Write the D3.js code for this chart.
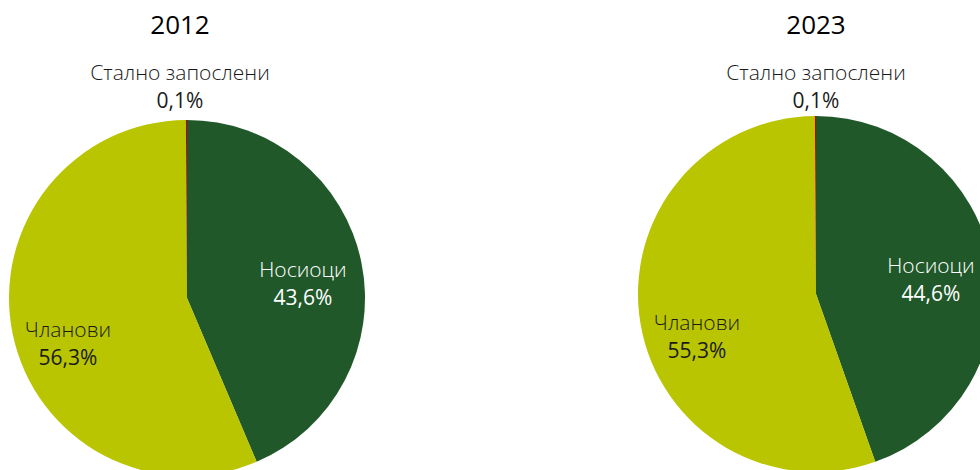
<!DOCTYPE html>
<html><head><meta charset="utf-8">
<script src="https://cdn.jsdelivr.net/npm/d3@7"></script>
<style>body{margin:0;background:#fff}svg{display:block}text{font-family:"Open Sans",sans-serif}</style>
</head><body>
<svg id="c" width="980" height="470"></svg>
<script>
const years = ["2012", "2023"];
const categories = ["Носиоци", "Чланови", "Стално запослени"];
const values2012 = [43.6, 56.3, 0.1];
const values2023 = [44.6, 55.3, 0.1];
const colors = ["#20582A", "#B9C500", "#C00000"];

const svg = d3.select("#c");
const r = 178;
const centers = [[187, 298], [816, 294]];
const series = [values2012, values2023];
const color = d3.scaleOrdinal().domain(categories).range(colors);
const pie = d3.pie().sort(null).value(d => d.v);
const arc = d3.arc().innerRadius(0).outerRadius(r);
const fmt = v => d3.format(".1f")(v).replace(".", ",") + "%";

// label offsets (relative to pie center) per chart
const labelPos = [
  {"Носиоци": [116, -15], "Чланови": [-119, 45], "Стално запослени": [-7, -212]},
  {"Носиоци": [115, -15], "Чланови": [-119, 42], "Стално запослени": [0, -208]}
];
const labelColor = {"Носиоци": "#ffffff", "Чланови": "#1a1a1a", "Стално запослени": "#1a1a1a"};

series.forEach((vals, i) => {
  const [cx, cy] = centers[i];
  const g = svg.append("g").attr("transform", `translate(${cx},${cy})`);
  const data = pie(categories.map((c, k) => ({c, v: vals[k]})));
  g.selectAll("path").data(data).join("path")
    .attr("d", arc).attr("fill", d => color(d.data.c));
  const titleX = i === 0 ? -7 : 0;
  svg.append("text").attr("x", cx + titleX).attr("y", 34)
    .attr("text-anchor", "middle").attr("font-size", 26).attr("fill", "#000")
    .text(years[i]);
  data.forEach(d => {
    const [dx, dy] = labelPos[i][d.data.c];
    const t = g.append("text").attr("text-anchor", "middle")
      .attr("font-size", 21).attr("font-weight", 300)
      .attr("fill", labelColor[d.data.c]);
    t.append("tspan").attr("x", dx).attr("y", dy - 6).text(d.data.c);
    t.append("tspan").attr("x", dx).attr("y", dy + 22).attr("font-weight", 400).text(fmt(d.data.v));
  });
});
</script>
</body></html>
